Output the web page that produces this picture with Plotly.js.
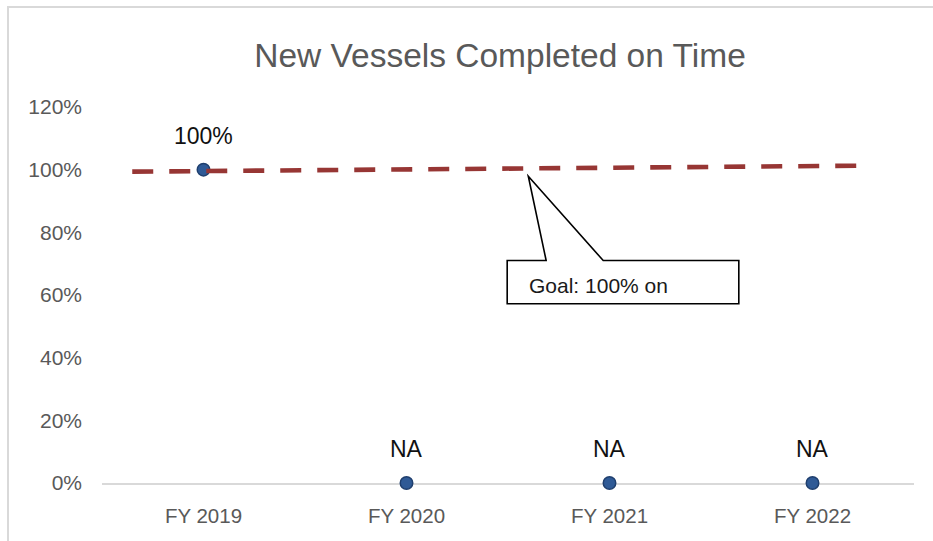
<!DOCTYPE html>
<html>
<head>
<meta charset="utf-8">
<script src="https://cdn.plot.ly/plotly-3.0.1.min.js"></script>
<style>
  html, body { margin: 0; padding: 0; background: #fff; }
  #wrap { position: relative; width: 933px; height: 541px; overflow: hidden; }
  #chart { position: absolute; left: 0; top: 0; width: 933px; height: 541px; }
  #frame { position: absolute; left: 7px; top: 6px; width: 940px; height: 560px;
           border-left: 2px solid #d9d9d9; border-top: 2px solid #d9d9d9; pointer-events: none; }
</style>
</head>
<body>
<div id="wrap">
  <div id="chart"></div>
  <div id="frame"></div>
</div>
<script>
// ---- data ----
const categories = ["FY 2019", "FY 2020", "FY 2021", "FY 2022"];
const onTimeValues = [1.0, 0, 0, 0];
const pointLabels = ["100%", "NA", "NA", "NA"];
const yTickVals = [0, 0.2, 0.4, 0.6, 0.8, 1.0, 1.2];
const yTickText = ["0%", "20%", "40%", "60%", "80%", "100%", "120%"];
const goalLineX = [-0.351, 3.245];
const goalLineY = [0.9936, 1.0128];
const goalText = "Goal: 100% on";

const FONT = "'Liberation Sans', Arial, sans-serif";
const idx = categories.map((c, i) => i);

const traces = [
  {
    x: idx, y: onTimeValues, type: "scatter", mode: "markers",
    marker: { size: 12.5, color: "#2f5a96", line: { color: "#1f3f6e", width: 1.5 } },
    cliponaxis: false,
    hoverinfo: "skip", showlegend: false
  },
  {
    x: goalLineX, y: goalLineY, type: "scatter", mode: "lines",
    line: { color: "#973634", width: 4.6, dash: "21px,16px" },
    cliponaxis: false,
    hoverinfo: "skip", showlegend: false
  }
];

const annotations = idx.map(i => ({
  x: i, y: onTimeValues[i], xref: "x", yref: "y",
  text: pointLabels[i], showarrow: false,
  yanchor: "middle", yshift: 34,
  font: { family: FONT, size: 23, color: "#111111" }
}));
annotations.push({
  x: 1.596, y: 0.629, xref: "x", yref: "y", xanchor: "left", yanchor: "middle",
  text: goalText, showarrow: false,
  font: { family: FONT, size: 21, color: "#1a1a1a" }
});

const layout = {
  width: 933, height: 541,
  margin: { l: 102, r: 19, t: 107, b: 58 },
  paper_bgcolor: "#ffffff", plot_bgcolor: "#ffffff",
  font: { family: FONT, color: "#595959" },
  title: {
    text: "New Vessels Completed on Time",
    font: { family: FONT, size: 33.5, color: "#595959" },
    x: 500 / 933, xanchor: "center", xref: "container",
    y: 1 - 55 / 541, yanchor: "middle", yref: "container"
  },
  xaxis: {
    range: [-0.5, 3.5], tickvals: idx, ticktext: categories,
    showgrid: false, zeroline: false,
    showline: true, linecolor: "#d9d9d9", linewidth: 2,
    layer: "below traces",
    ticks: "", ticklabelstandoff: 13,
    tickfont: { family: FONT, size: 20.5, color: "#595959" },
    fixedrange: true
  },
  yaxis: {
    range: [0, 1.2], tickvals: yTickVals, ticktext: yTickText,
    showgrid: false, zeroline: false, showline: false,
    layer: "below traces",
    ticks: "", ticklabelstandoff: 19,
    tickfont: { family: FONT, size: 21, color: "#595959" },
    fixedrange: true
  },
  shapes: [
    {
      type: "path", xref: "x", yref: "y",
      path: "M 1.496 0.710 L 1.688 0.710 L 1.600 0.979 L 1.969 0.710 L 2.637 0.710 L 2.637 0.572 L 1.496 0.572 Z",
      fillcolor: "#ffffff", line: { color: "#000000", width: 1.6 }, layer: "above"
    }
  ],
  annotations: annotations,
  showlegend: false
};

Plotly.newPlot("chart", traces, layout, { staticPlot: true, displayModeBar: false });
</script>
</body>
</html>
